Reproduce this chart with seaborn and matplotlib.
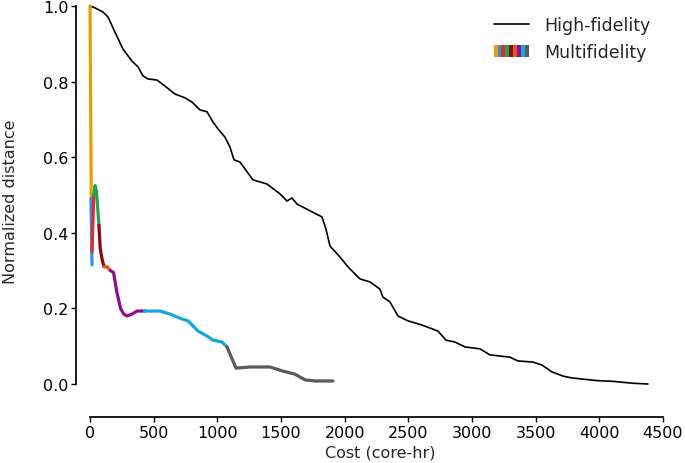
import numpy as np
import pandas as pd
import seaborn as sns
import matplotlib.pyplot as plt
from matplotlib.lines import Line2D
from matplotlib.patches import Rectangle
from matplotlib.legend_handler import HandlerBase

# high-fidelity run
hf_cost = [0, 39, 102, 141, 196, 259, 330, 377, 416, 455, 526, 589, 668, 746, 801,
           864, 919, 966, 1005, 1060, 1099, 1131, 1178, 1217, 1280, 1390, 1492, 1547,
           1586, 1626, 1728, 1822, 1853, 1885, 1963, 2026, 2120, 2199, 2277, 2301,
           2356, 2419, 2497, 2607, 2733, 2796, 2866, 2945, 3063, 3141, 3298, 3361,
           3479, 3550, 3628, 3714, 3785, 3981, 4107, 4201, 4264, 4382]
hf_dist = [1.0, 0.995, 0.984, 0.971, 0.931, 0.886, 0.854, 0.839, 0.815, 0.807, 0.804,
           0.788, 0.767, 0.757, 0.746, 0.725, 0.720, 0.693, 0.675, 0.653, 0.627, 0.593,
           0.587, 0.569, 0.540, 0.529, 0.503, 0.484, 0.492, 0.476, 0.458, 0.442, 0.410,
           0.365, 0.336, 0.310, 0.278, 0.270, 0.251, 0.230, 0.217, 0.180, 0.167, 0.156,
           0.140, 0.116, 0.111, 0.098, 0.093, 0.077, 0.071, 0.061, 0.058, 0.050, 0.032,
           0.021, 0.016, 0.009, 0.007, 0.004, 0.002, 0.0]

# multifidelity run, one segment per colour
mf_segments = {
    "s1": ([0, 3, 6, 8, 10], [1.0, 0.85, 0.70, 0.58, 0.49]),
    "s2": ([8, 12, 16], [0.49, 0.40, 0.315]),
    "s3": ([16, 22, 30], [0.35, 0.42, 0.50]),
    "s4": ([30, 40, 50, 62, 70], [0.50, 0.525, 0.51, 0.46, 0.42]),
    "s5": ([70, 80, 95, 110], [0.42, 0.36, 0.33, 0.31]),
    "s6": ([110, 135, 160], [0.31, 0.31, 0.30]),
    "s7": ([160, 185, 210, 240, 265, 290, 330, 370, 430],
           [0.30, 0.295, 0.245, 0.20, 0.185, 0.18, 0.185, 0.193, 0.193]),
    "s8": ([430, 550, 628, 722, 770, 848, 919, 966, 1037, 1076],
           [0.193, 0.193, 0.185, 0.172, 0.167, 0.140, 0.127, 0.116, 0.111, 0.098]),
    "s9": ([1076, 1147, 1256, 1414, 1516, 1610, 1688, 1767, 1908],
           [0.098, 0.042, 0.045, 0.045, 0.034, 0.026, 0.011, 0.008, 0.008]),
}
mf_colors = ["#E69F00", "#2E8FEA", "#E8262B", "#1AA550", "#8B0A0A",
             "#E8501E", "#8E0C8E", "#12A8DE", "#5A5A5A"]

hf_df = pd.DataFrame({"cost": hf_cost, "dist": hf_dist})
mf_df = pd.concat([pd.DataFrame({"cost": c, "dist": d, "seg": k})
                   for k, (c, d) in mf_segments.items()], ignore_index=True)


class HandlerStripes(HandlerBase):
    """Legend key drawn as a row of coloured stripes."""
    def __init__(self, colors):
        super().__init__()
        self.colors = colors

    def create_artists(self, legend, orig_handle, xdescent, ydescent,
                       width, height, fontsize, trans):
        n = len(self.colors)
        w = width / n
        return [Rectangle((-xdescent + i * w, -ydescent), w, height,
                          facecolor=c, edgecolor="none", transform=trans)
                for i, c in enumerate(self.colors)]


sns.set_theme(style="ticks")
plt.rcParams["font.family"] = ["DejaVu Sans"]

fig = plt.figure(figsize=(6.85, 4.64), dpi=100)
# axes placed so that cost 0 sits at x=90px and distance 0..1 spans y=385..7px
ax = fig.add_axes([84 / 685, (464 - 403.9) / 464, (675.7 - 84) / 685, 404.5 / 464])

sns.lineplot(data=hf_df, x="cost", y="dist", color="black", linewidth=1.2,
             sort=False, estimator=None, ax=ax)
sns.lineplot(data=mf_df, x="cost", y="dist", hue="seg", units="seg",
             palette=mf_colors, linewidth=2.3, sort=False, estimator=None,
             legend=False, ax=ax)

ax.set_xlim(-47, 4600)
ax.set_ylim(-0.05, 1.02)
ax.set_xticks(np.arange(0, 4501, 500))
ax.set_yticks(np.arange(0, 1.01, 0.2))
ax.tick_params(labelsize=11.5, length=3.5, width=1, pad=2.5, colors="black")
ax.tick_params(axis="y", pad=1.5)
ax.set_xlabel("Cost (core-hr)", fontsize=11.5, labelpad=3)
ax.set_ylabel("Normalized distance", fontsize=11.5, labelpad=18)
sns.despine(ax=ax, offset={"left": 6, "bottom": 10}, trim=True)
for s in ("left", "bottom"):
    ax.spines[s].set_color("black")

hf_handle = Line2D([], [], color="black", linewidth=1.2)
mf_handle = Rectangle((0, 0), 1, 1)
ax.legend([hf_handle, mf_handle], ["High-fidelity", "Multifidelity"],
          handler_map={mf_handle: HandlerStripes(mf_colors)},
          loc="upper right", frameon=False, fontsize=12.5,
          handlelength=2.0, handletextpad=0.9, labelspacing=0.55,
          bbox_to_anchor=(666 / 685, (464 - 1) / 464),
          bbox_transform=fig.transFigure)

fig.savefig("out.png", dpi=100)
